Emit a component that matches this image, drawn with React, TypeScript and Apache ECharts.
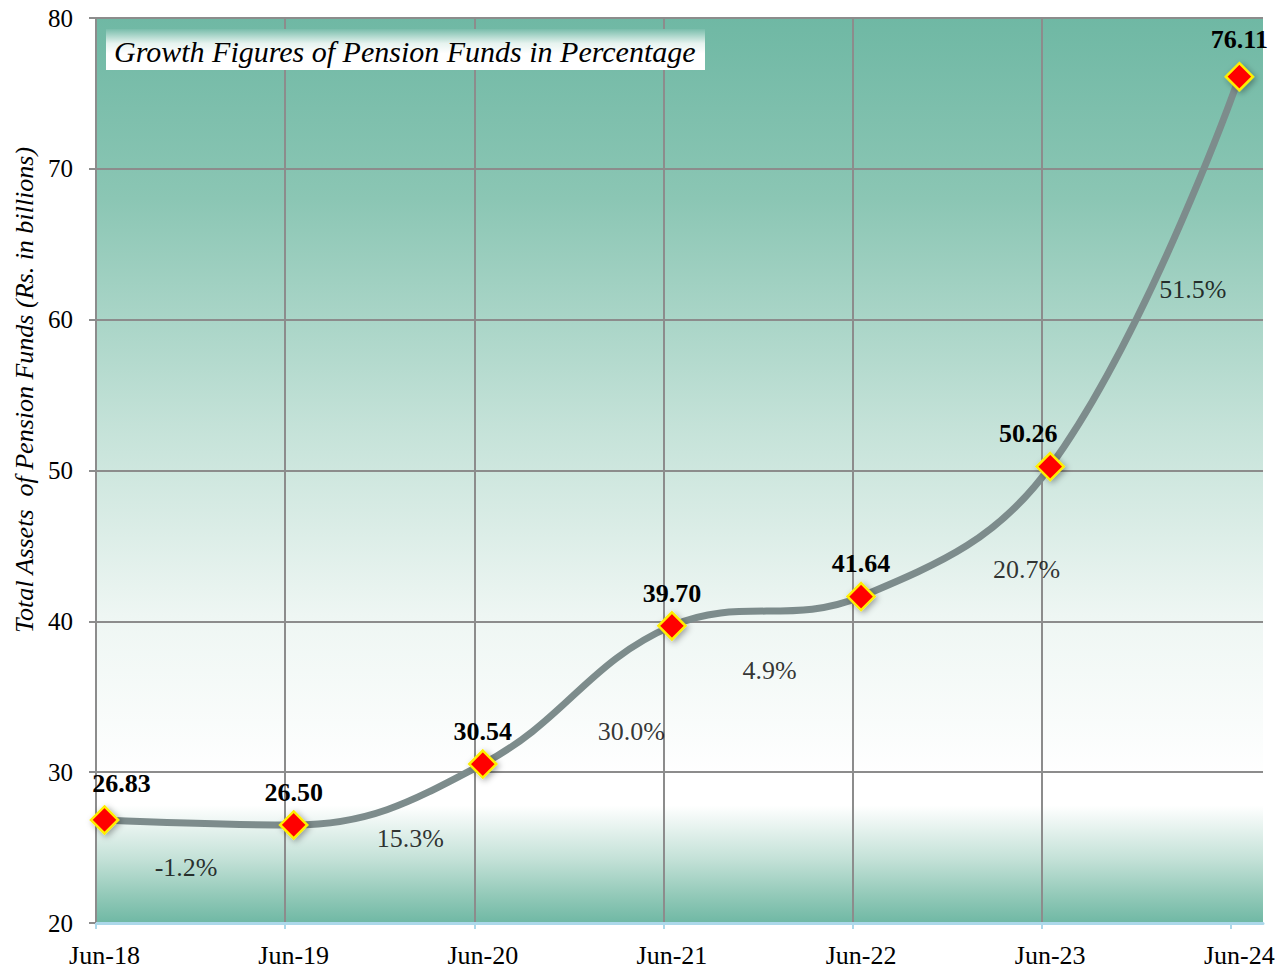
import React, { useEffect, useRef } from "react";
import * as echarts from "echarts";

const categories = ["Jun-18", "Jun-19", "Jun-20", "Jun-21", "Jun-22", "Jun-23", "Jun-24"];
const totalAssets = [26.83, 26.5, 30.54, 39.7, 41.64, 50.26, 76.11];
const growthPct = ["-1.2", "15.3", "30.0", "4.9", "20.7", "51.5"];
const yTicks = { min: 20, max: 80, interval: 10 };
const titleText = "Growth Figures of Pension Funds in Percentage";
const yAxisTitle = "Total Assets  of Pension Funds (Rs. in billions)";

const valueLabelOffsets: number[][] = [[17, -4], [0, 0], [0, 0], [0, 0], [0, 0], [-22, 0], [0, -4]];
const growthLabelOffsets: number[][] = [[-13, 45], [22, 44], [54, 37], [3, 59], [71, 38], [48, 18]];

const SERIF = "'Liberation Serif', 'Times New Roman', serif";

export default function App() {
  const ref = useRef<HTMLDivElement>(null);
  useEffect(() => {
    if (!ref.current) return;
    const chart = echarts.init(ref.current, null, { renderer: "svg" });
    const idx = categories.map((_, i) => i);
    const lineData = totalAssets.map((v, i) => ({
      value: [i, v],
      label: { offset: valueLabelOffsets[i] },
    }));
    const growthData = growthPct.map((g, i) => ({
      value: [i + 0.5, (totalAssets[i] + totalAssets[i + 1]) / 2],
      name: g,
      label: { offset: growthLabelOffsets[i] },
    }));
    const option: any = {
      animation: false,
      backgroundColor: "#ffffff",
      grid: {
        left: 96,
        top: 18,
        right: 23,
        bottom: 47,
        show: true,
        borderWidth: 0,
        backgroundColor: {
          type: "linear",
          x: 0,
          y: 0,
          x2: 0,
          y2: 1,
          colorStops: [
            { offset: 0, color: "#6fb8a4" },
            { offset: 0.2, color: "#8bc6b4" },
            { offset: 0.45, color: "#c4e2d8" },
            { offset: 0.66, color: "#eef6f3" },
            { offset: 0.84, color: "#ffffff" },
            { offset: 0.87, color: "#ffffff" },
            { offset: 0.93, color: "#c3e1d7" },
            { offset: 0.97, color: "#92c9b8" },
            { offset: 1, color: "#6fb8a4" },
          ],
        },
      },
      xAxis: [
        {
          type: "value",
          position: "bottom",
          min: 0,
          max: 6.17,
          interval: 1,
          axisLine: { show: true, lineStyle: { color: "#acd8ea", width: 3 } },
          axisTick: {
            show: true,
            length: 6,
            customValues: idx,
            lineStyle: { color: "#acd8ea", width: 2 },
          },
          axisLabel: { show: false },
          splitLine: { show: true, showMinLine: false, showMaxLine: false, lineStyle: { color: "#8c8c8c", width: 2 } },
        },
        {
          type: "value",
          position: "bottom",
          min: -0.045,
          max: 6.125,
          axisLine: { show: false },
          axisTick: { show: false },
          splitLine: { show: false },
          axisLabel: {
            show: true,
            customValues: idx,
            formatter: (v: number) => categories[Math.round(v)] ?? "",
            fontFamily: SERIF,
            fontSize: 26,
            color: "#000",
            margin: 19,
          },
        },
      ],
      yAxis: {
        type: "value",
        min: yTicks.min,
        max: yTicks.max,
        interval: yTicks.interval,
        axisLine: { show: true, lineStyle: { color: "#8c8c8c", width: 2 } },
        axisTick: { show: true, length: 7, lineStyle: { color: "#8c8c8c", width: 2 } },
        axisLabel: { fontFamily: SERIF, fontSize: 25, color: "#000", margin: 23 },
        splitLine: { show: true, lineStyle: { color: "#8c8c8c", width: 2 } },
      },
      series: [
        {
          type: "line",
          xAxisIndex: 1,
          data: lineData,
          smooth: 0.4,
          lineStyle: { color: "#7d8c8c", width: 7 },
          symbol: "diamond",
          symbolSize: 27,
          itemStyle: {
            color: "#ff0000",
            borderColor: "#ffee00",
            borderWidth: 2.5,
            shadowColor: "rgba(0,0,0,0.35)",
            shadowBlur: 6,
            shadowOffsetX: 2,
            shadowOffsetY: 2,
          },
          label: {
            show: true,
            position: "top",
            distance: 5,
            formatter: (p: any) => p.value[1].toFixed(2),
            fontFamily: SERIF,
            fontWeight: "bold",
            fontSize: 26,
            color: "#000",
          },
          z: 3,
        },
        {
          type: "scatter",
          xAxisIndex: 1,
          data: growthData,
          symbolSize: 0,
          silent: true,
          label: {
            show: true,
            position: "inside",
            formatter: (p: any) => p.name + "%",
            fontFamily: SERIF,
            fontSize: 26,
            color: "#000",
          },
          z: 4,
        },
      ],
      graphic: [
        {
          type: "rect",
          left: 106,
          top: 29,
          shape: { width: 599, height: 41 },
          style: {
            fill: {
              type: "linear",
              x: 0,
              y: 0,
              x2: 0,
              y2: 1,
              colorStops: [
                { offset: 0, color: "#79bdab" },
                { offset: 0.35, color: "#e6f3ef" },
                { offset: 0.6, color: "#ffffff" },
                { offset: 1, color: "#ffffff" },
              ],
            },
          },
          z: 10,
        },
        {
          type: "text",
          x: 114,
          y: 51,
          style: {
            text: titleText,
            fontFamily: SERIF,
            fontStyle: "italic",
            fontSize: 30,
            fill: "#000",
            textVerticalAlign: "middle",
            textAlign: "left",
          },
          z: 11,
        },
        {
          type: "text",
          x: 24,
          y: 390,
          rotation: Math.PI / 2,
          style: {
            text: yAxisTitle,
            fontFamily: SERIF,
            fontStyle: "italic",
            fontSize: 26,
            fill: "#000",
            textAlign: "center",
            textVerticalAlign: "middle",
          },
          z: 11,
        },
      ],
    };
    chart.setOption(option);
    return () => chart.dispose();
  }, []);
  return (
    <div
      ref={ref}
      style={{ position: "fixed", left: 0, top: 0, width: 1286, height: 970 }}
    />
  );
}
